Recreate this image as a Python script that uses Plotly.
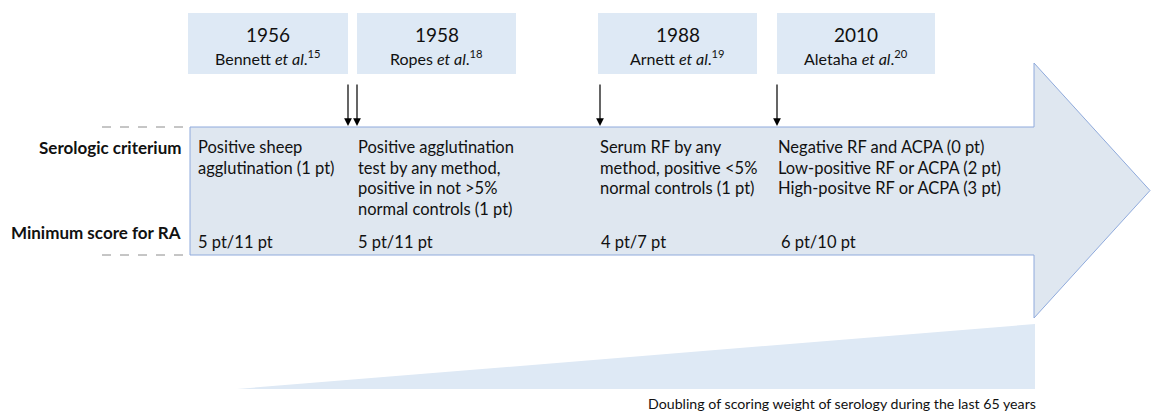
import plotly.graph_objects as go

# ---- content ----
years = ["1956", "1958", "1988", "2010"]
authors = ["Bennett", "Ropes", "Arnett", "Aletaha"]
refs = ["15", "18", "19", "20"]
criteria = [
    ["Positive sheep", "agglutination (1 pt)"],
    ["Positive agglutination", "test by any method,", "positive in not >5%", "normal controls (1 pt)"],
    ["Serum RF by any", "method, positive <5%", "normal controls (1 pt)"],
    ["Negative RF and ACPA (0 pt)", "Low-positive RF or ACPA (2 pt)", "High-positve RF or ACPA (3 pt)"],
]
scores = ["5 pt/11 pt", "5 pt/11 pt", "4 pt/7 pt", "6 pt/10 pt"]
row_labels = ["Serologic criterium", "Minimum score for RA"]
caption = "Doubling of scoring weight of serology during the last 65 years"

# ---- layout geometry (pixels) ----
W, H = 1151, 411
box_x0 = [188, 357, 598, 777]
box_x1 = [348, 516, 757, 935]
box_y0, box_y1 = 13, 74
arrow_x = [348, 357, 600, 777]
col_x = [196, 356, 598, 776]
score_x = [196, 356, 599, 779]
body_l, body_r, body_t, body_b = 190, 1034, 127, 255
head_t, head_b, tip_x = 63, 318, 1150

FONT = "Lato"
fig = go.Figure()

shapes = []
# main arrow
path = (f"M{body_l},{body_t} L{body_r},{body_t} L{body_r},{head_t} L{tip_x},{(head_t+head_b)/2} "
        f"L{body_r},{head_b} L{body_r},{body_b} L{body_l},{body_b} Z")
shapes.append(dict(type="path", path=path, xref="x", yref="y",
                   fillcolor="#DFE7F0", line=dict(color="#8FAADC", width=1), layer="below"))
# dashed guide lines
for yy in (body_t, body_b):
    shapes.append(dict(type="line", x0=102, x1=body_l, y0=yy, y1=yy, xref="x", yref="y",
                       line=dict(color="#8C8C8C", width=1, dash="dash")))
# year boxes
for x0, x1 in zip(box_x0, box_x1):
    shapes.append(dict(type="rect", x0=x0, x1=x1, y0=box_y0, y1=box_y1, xref="x", yref="y",
                       fillcolor="#DEE9F5", line=dict(width=0)))
# wedge
shapes.append(dict(type="path", path="M237,389 L1035,389 L1035,324 Z", xref="x", yref="y",
                   fillcolor="#DEE9F5", line=dict(width=0)))

ann = []
for i in range(4):
    cx = (box_x0[i] + box_x1[i]) / 2
    ann.append(dict(x=cx, y=34, text=years[i], showarrow=False, xref="x", yref="y",
                    font=dict(family=FONT, size=19, color="#111")))
    ann.append(dict(x=cx, y=57, text=f"{authors[i]} <i>et al</i>.<sup>{refs[i]}</sup>",
                    showarrow=False, xref="x", yref="y",
                    font=dict(family=FONT, size=16, color="#111")))
    ann.append(dict(x=arrow_x[i], y=body_t - 1, ax=arrow_x[i], ay=83, xref="x", yref="y",
                    axref="x", ayref="y", text="", showarrow=True, arrowhead=2,
                    arrowsize=1.3, arrowwidth=1.2, arrowcolor="#000"))
    for j, line in enumerate(criteria[i]):
        ann.append(dict(x=col_x[i], y=147 + 20.5 * j, text=line, showarrow=False, xref="x", yref="y",
                        xanchor="left", font=dict(family=FONT, size=16.5, color="#111")))
    ann.append(dict(x=score_x[i], y=242, text=scores[i], showarrow=False, xref="x", yref="y",
                    xanchor="left", font=dict(family=FONT, size=16.5, color="#111")))

for lab, yy in zip(row_labels, (147, 232)):
    ann.append(dict(x=183, y=yy, text=f"<b>{lab}</b>", showarrow=False, xref="x", yref="y",
                    xanchor="right", font=dict(family=FONT, size=17, color="#111")))

ann.append(dict(x=1038, y=403, text=caption, showarrow=False, xref="x", yref="y",
                xanchor="right", font=dict(family=FONT, size=14.2, color="#111")))

fig.update_layout(width=W, height=H, margin=dict(l=0, r=0, t=0, b=0),
                  paper_bgcolor="white", plot_bgcolor="white",
                  shapes=shapes, annotations=ann, showlegend=False,
                  xaxis=dict(range=[0, W], visible=False, fixedrange=True),
                  yaxis=dict(range=[H, 0], visible=False, fixedrange=True))
fig.write_html("out.html", config={"displayModeBar": False},
               post_script="document.body.style.margin='0';document.body.style.overflow='hidden';")
